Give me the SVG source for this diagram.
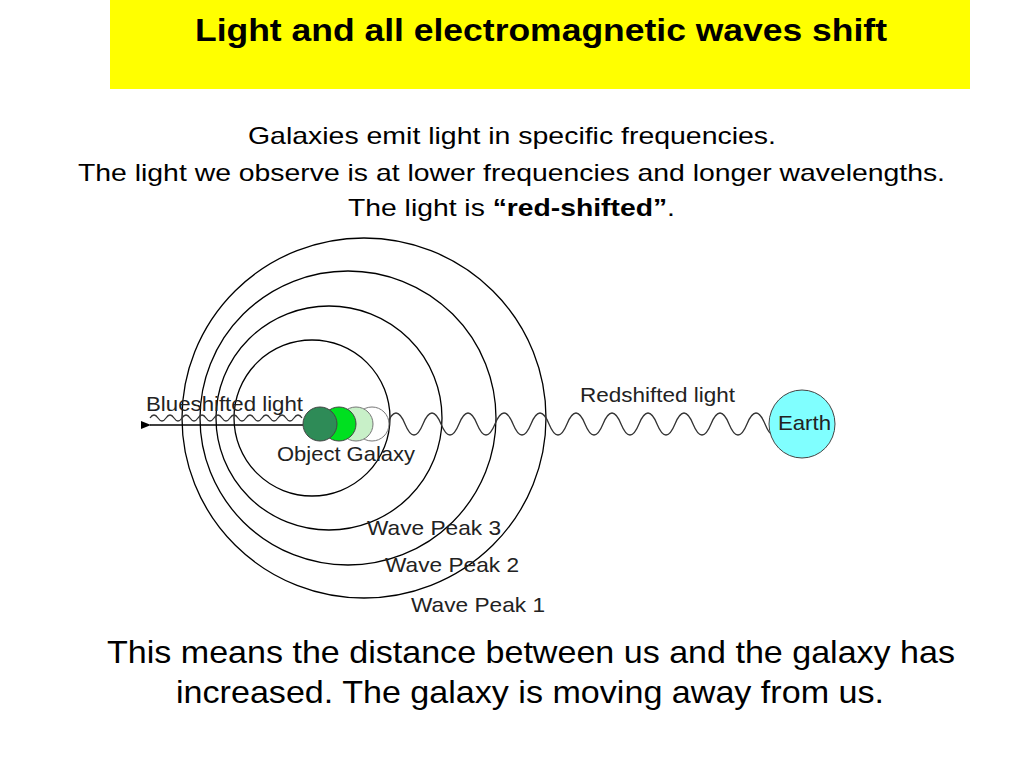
<svg xmlns="http://www.w3.org/2000/svg" width="1024" height="768" viewBox="0 0 1024 768">
<style>
.t{font-family:"Liberation Sans",Arial,sans-serif;fill:#000}
.d{font-family:"Liberation Sans",Arial,sans-serif;font-size:21px;fill:#222}
.ring{fill:none;stroke:#000;stroke-width:1.3}
.w{fill:none;stroke:#333;stroke-width:1.3}
</style>
<defs><marker id="a" markerWidth="10" markerHeight="8" refX="1" refY="4" orient="auto-start-reverse" markerUnits="userSpaceOnUse"><path d="M10,0 L0,4 L10,8 Z" fill="#000"/></marker></defs>
<rect x="110" y="0" width="860" height="89" fill="#ffff00"/>
<text class="t" x="195" y="41" font-size="31" font-weight="bold" textLength="692" lengthAdjust="spacingAndGlyphs">Light and all electromagnetic waves shift</text>
<text class="t" x="248" y="144" font-size="24" textLength="528" lengthAdjust="spacingAndGlyphs">Galaxies emit light in specific frequencies.</text>
<text class="t" x="78" y="181" font-size="24" textLength="867" lengthAdjust="spacingAndGlyphs">The light we observe is at lower frequencies and longer wavelengths.</text>
<text class="t" x="348" y="216" font-size="24" textLength="327" lengthAdjust="spacingAndGlyphs">The light is <tspan font-weight="bold">“red-shifted”</tspan>.</text>
<g id="rings">
<ellipse class="ring" cx="364" cy="418" rx="182" ry="180"/>
<ellipse class="ring" cx="348" cy="418" rx="148" ry="147"/>
<ellipse class="ring" cx="329" cy="418" rx="113" ry="112"/>
<ellipse class="ring" cx="312" cy="418" rx="78" ry="78"/>
</g>
<g id="connectors">
<path class="w" d="M387,424 q9,-22 18,0 t18,0 t18,0 t18,0 t18,0 t18,0 t18,0 t18,0 t18,0 t18,0 t18,0 t18,0 t18,0 t18,0 t18,0 t18,0 t18,0 t18,0 t18,0 t18,0 t18,0 t13,-2"/>
<path class="w" stroke-width="1" d="M150,418 q4,-6 8,0 t8,0 t8,0 t8,0 t8,0 t8,0 t8,0 t8,0 t8,0 t8,0 t8,0 t8,0 t8,0 t8,0 t8,0 t8,0 t8,0 t8,0 t8,0"/>
<line x1="303" y1="425" x2="150" y2="425" stroke="#000" stroke-width="1.5" marker-end="url(#a)"/>
</g>
<g id="galaxy">
<circle cx="372" cy="424" r="17" fill="#fff" stroke="#777"/>
<circle cx="356" cy="424" r="17" fill="#c8f0c8" stroke="#777"/>
<circle cx="339" cy="424" r="17" fill="#00e020" stroke="#444"/>
<circle cx="320" cy="424" r="17" fill="#2e8b57" stroke="#444"/>
</g>
<g id="earth">
<ellipse cx="802" cy="424" rx="33" ry="34" fill="#80ffff" stroke="#444"/>
<text class="d" x="778" y="430" textLength="53" lengthAdjust="spacingAndGlyphs">Earth</text>
</g>
<text class="d" x="146" y="411" textLength="157" lengthAdjust="spacingAndGlyphs">Blueshifted light</text>
<text class="d" x="580" y="402" textLength="155" lengthAdjust="spacingAndGlyphs">Redshifted light</text>
<text class="d" x="277" y="461" textLength="138" lengthAdjust="spacingAndGlyphs">Object Galaxy</text>
<text class="d" x="367" y="535" textLength="134" lengthAdjust="spacingAndGlyphs">Wave Peak 3</text>
<text class="d" x="385" y="572" textLength="134" lengthAdjust="spacingAndGlyphs">Wave Peak 2</text>
<text class="d" x="411" y="612" textLength="134" lengthAdjust="spacingAndGlyphs">Wave Peak 1</text>
<text class="t" x="107" y="663" font-size="32" textLength="848" lengthAdjust="spacingAndGlyphs">This means the distance between us and the galaxy has</text>
<text class="t" x="176" y="703" font-size="32" textLength="708" lengthAdjust="spacingAndGlyphs">increased. The galaxy is moving away from us.</text>
</svg>
